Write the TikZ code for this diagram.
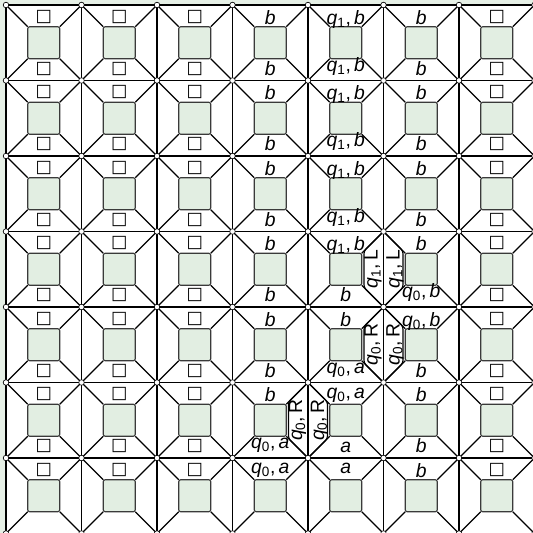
\documentclass[tikz,border=0pt]{standalone}
\usepackage{fontspec}
\setmainfont{Liberation Sans}
\newfontfamily\symfont{DejaVu Sans}
\usetikzlibrary{calc}
\definecolor{mint}{HTML}{E6F0E6}
\definecolor{sage}{HTML}{E2EEE2}
\definecolor{graphite}{HTML}{3A3A3A}

\newcommand{\blank}{{\symfont\fontsize{13}{15}\selectfont □}}
\newcommand{\qs}[1]{\textit{q}\textsubscript{#1}}
\newcommand{\sym}[1]{\textit{#1}}
% label on horizontal edge #2 of column #1: below it (top of row #2) and above it (bottom of row #2-1)
\newcommand{\pairlab}[3]{%
  \node[lab,anchor=north] (top-#2-#1) at ({43.75+75.5*#1},{523-75.5*#2}) {#3};
  \ifnum#2>0 \node[lab,anchor=south] (bot-#2-#1) at ({43.75+75.5*#1},{533-75.5*#2}) {#3};\fi}

\begin{document}
\begin{tikzpicture}[x=0.75pt,y=0.75pt,
    edge/.style={line width=0.85pt,black},
    core/.style={fill=sage,draw=graphite,line width=0.85pt,rounded corners=1.5pt},
    hexa/.style={line width=0.85pt,black,rounded corners=2pt},
    lab/.style={inner sep=0pt,font=\fontsize{14.5}{16}\selectfont},
    dot/.style={circle,draw=black,fill=white,line width=0.5pt,inner sep=0pt,minimum size=4.2pt}]
  \fill[mint] (0,0) rectangle (533,533);
  \useasboundingbox (0,0) rectangle (533,533);
  \begin{scope}
    \clip (0,0) rectangle (533,533);
    % tiles
    \foreach \r in {0,...,6}{
      \foreach \c in {0,...,6}{
        \begin{scope}[shift={({6+75.5*\c},{528-75.5*\r})}]
          \fill[white] (0,0) rectangle (75.5,-75.5);
          \draw[edge] (0,0) rectangle (75.5,-75.5);
          \draw[edge] (0,0) -- (21.75,-21.75) (75.5,0) -- (53.75,-21.75)
            (75.5,-75.5) -- (53.75,-53.75) (0,-75.5) -- (21.75,-53.75);
          \draw[core] (21.75,-21.75) rectangle (53.75,-53.75);
        \end{scope}
      }
    }
    % side regions with labels
    \draw[hexa] (383.5,301.5) -- (364,282) -- (364,245.5) -- (383.5,226);
    \draw[hexa] (383.5,301.5) -- (403,282) -- (403,245.5) -- (383.5,226);
    \draw[hexa] (383.5,226) -- (364,206.5) -- (364,170) -- (383.5,150.5);
    \draw[hexa] (383.5,226) -- (403,206.5) -- (403,170) -- (383.5,150.5);
    \draw[hexa] (308,150.5) -- (288.5,131) -- (288.5,94.5) -- (308,75);
    \draw[hexa] (308,150.5) -- (327.5,131) -- (327.5,94.5) -- (308,75);
    \node[lab,rotate=90,anchor=south] (ql-a) at (382,263.75) {\qs1,\,L};
    \node[lab,rotate=90,anchor=north] (ql-b) at (386,263.75) {\qs1,\,L};
    \node[lab,rotate=90,anchor=south] (qr-a) at (382,188.25) {\qs0,\,R};
    \node[lab,rotate=90,anchor=north] (qr-b) at (386,188.25) {\qs0,\,R};
    \node[lab,rotate=90,anchor=south] (qr-c) at (306.5,112.75) {\qs0,\,R};
    \node[lab,rotate=90,anchor=north] (qr-d) at (310.5,112.75) {\qs0,\,R};
    % edge labels
    \foreach \c in {0,1,2,6}{
      \foreach \k in {0,...,6}{\pairlab{\c}{\k}{\blank}}
    }
    \foreach \k in {0,...,5}{\pairlab{3}{\k}{\sym b}}
    \pairlab{3}{6}{\qs0,\,\sym a}
    \foreach \k in {0,...,3}{\pairlab{4}{\k}{\qs1,\,\sym b}}
    \pairlab{4}{4}{\sym b}
    \pairlab{4}{5}{\qs0,\,\sym a}
    \pairlab{4}{6}{\sym a}
    \foreach \k in {0,...,3}{\pairlab{5}{\k}{\sym b}}
    \pairlab{5}{4}{\qs0,\,\sym b}
    \pairlab{5}{5}{\sym b}
    \pairlab{5}{6}{\sym b}
    % corners
    \foreach \r in {0,...,7}{
      \foreach \c in {0,...,7}{
        \node[dot] (d-\r-\c) at ({6+75.5*\c},{528-75.5*\r}) {};
      }
    }
  \end{scope}
\end{tikzpicture}
\end{document}
